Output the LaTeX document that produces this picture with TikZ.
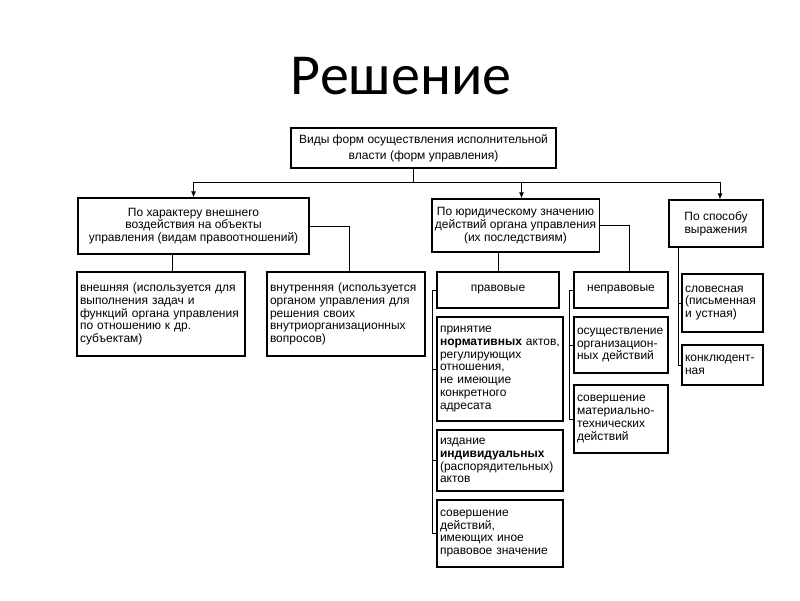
\documentclass[tikz,border=0pt]{standalone}
\usepackage{fontspec}
\setmainfont{Liberation Sans}
\newfontfamily\titlefont{Carlito}
\usepackage{tikz}
\usetikzlibrary{arrows.meta}

\begin{document}
\begin{tikzpicture}[x=1pt, y=1pt,
    box/.style={draw, line width=1.2pt, inner xsep=3pt, inner ysep=0pt,
        font=\fontsize{12}{12.8}\selectfont},
    cbox/.style={box, align=center},
    lbox/.style={box, align=left},
    heavy/.style={line width=1.8pt},
    link/.style={line width=0.9pt},
    arrow/.style={link, -{Latex[length=6pt, width=5pt]}}]
\useasboundingbox (0, 0) rectangle (800, 600);
\node[anchor=base, font=\titlefont\fontsize{58}{60}\selectfont] (title) at (401, 505) {Решение};

% top levels
\node[cbox, minimum width=265pt, minimum height=40pt, font=\fontsize{12}{16}\selectfont] (kinds) at (423.5, 452)
    {Виды форм осуществления исполнительной\\власти (форм управления)};
\node[cbox, minimum width=231pt, minimum height=56pt] (harakter) at (193.5, 374)
    {По характеру внешнего\\воздействия на объекты\\управления (видам правоотношений)};
\node[cbox, minimum width=167pt, minimum height=53pt] (yurid) at (515.5, 374.5)
    {По юридическому значению\\действий органа управления\\(их последствиям)};
\node[cbox, minimum width=94pt, minimum height=47pt] (sposob) at (716, 376.5)
    {По способу\\выражения};

% by character
\node[lbox, heavy, text width=162pt, minimum height=84pt] (vnesh) at (161, 286)
    {внешняя (используется для\\выполнения задач и\\функций органа управления\\по отношению к др.\\субъектам)};
\node[lbox, text width=152pt, minimum height=84pt] (vnutr) at (346, 286)
    {внутренняя (используется\\органом управления для\\решения своих\\внутриорганизационных\\вопросов)};

% by legal meaning
\node[cbox, heavy, minimum width=122pt, minimum height=36pt] (prav) at (498, 310) {правовые};
\node[cbox, heavy, minimum width=94pt, minimum height=36pt] (neprav) at (621, 310) {неправовые};
\node[lbox, text width=120pt, minimum height=104pt] (prinyat) at (500, 231)
    {принятие\\\textbf{нормативных} актов,\\регулирующих\\отношения,\\не имеющие\\конкретного\\адресата};
\node[lbox, text width=120pt, minimum height=61pt] (izdan) at (500, 139.5)
    {издание\\\textbf{индивидуальных}\\(распорядительных)\\актов};
\node[lbox, text width=120pt, minimum height=67pt] (soversh) at (500, 66.5)
    {совершение\\действий,\\имеющих иное\\правовое значение};
\node[lbox, text width=88pt, minimum height=56pt] (osush) at (621, 255)
    {осуществление\\организацион-\\ных действий};
\node[lbox, text width=88pt, minimum height=68pt] (mater) at (621, 181)
    {совершение\\материально-\\технических\\действий};

% by way of expression
\node[lbox, heavy, text width=75pt, minimum height=58pt] (slov) at (722.5, 297)
    {словесная\\(письменная\\и устная)};
\node[lbox, text width=75pt, minimum height=40pt] (konkl) at (722.5, 235)
    {конклюдент-\\ная};

% connectors
\coordinate (bus) at (413, 418);
\draw[link] (kinds.south -| bus) -- (bus);
\draw[arrow] (bus) -| (harakter.north);
\draw[arrow] (bus) -| ([xshift=6pt]yurid.north);
\draw[arrow] (bus) -| ([xshift=4pt]sposob.north);

\draw[link] ([xshift=-21pt]harakter.south) coordinate (h1) -- (h1 |- vnesh.north);
\draw[link] (harakter.east) -| ([xshift=3pt]vnutr.north);
\draw[link] (yurid.south -| prav.north) -- (prav.north);
\draw[link] (yurid.east) -| ([xshift=8pt]neprav.north);

\coordinate (pl) at (432, 0);
\draw[link] (prav.west) -- (prav.west -| pl) |- (soversh.west);
\foreach \n in {prinyat, izdan} \draw[link] (\n.west -| pl) -- (\n.west);
\coordinate (nl) at (569, 0);
\draw[link] (neprav.west) -- (neprav.west -| nl) |- (mater.west);
\draw[link] (osush.west -| nl) -- (osush.west);
\coordinate (sl) at (678, 0);
\draw[link] (sposob.south -| sl) |- (konkl.west);
\draw[link] (slov.west -| sl) -- (slov.west);
\end{tikzpicture}
\end{document}
